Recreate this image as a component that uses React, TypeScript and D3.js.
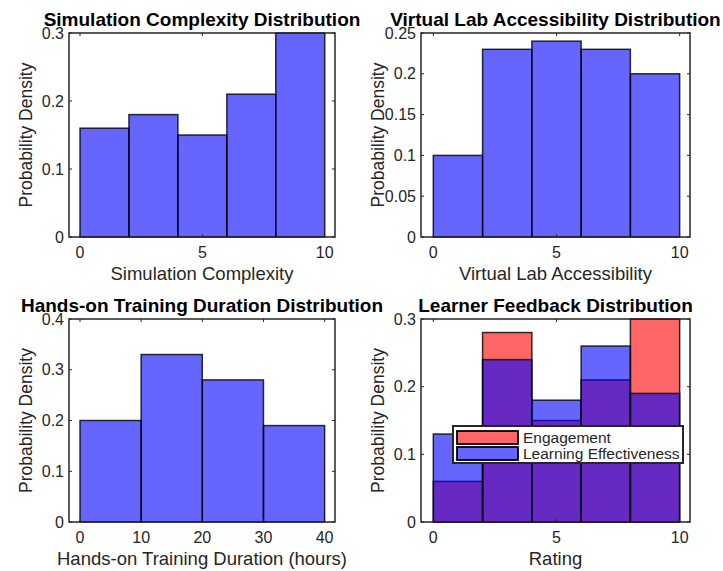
import React, { useEffect, useRef } from 'react';
import * as d3 from 'd3';

// bin edges + densities
const ratingEdges = [0, 2, 4, 6, 8, 10];
const hoursEdges = [0, 10, 20, 30, 40];

const simComplexity = [0.16, 0.18, 0.15, 0.21, 0.30];
const labAccess = [0.10, 0.23, 0.24, 0.23, 0.20];
const trainingHours = [0.20, 0.33, 0.28, 0.19];
const engagement = [0.06, 0.28, 0.15, 0.21, 0.30];
const learningEff = [0.13, 0.24, 0.18, 0.26, 0.19];

const ratingTicks = [0, 5, 10];
const hoursTicks = [0, 10, 20, 30, 40];

const FONT = '"Liberation Sans", Arial, sans-serif';
const AXIS = '#262626';

type Series = { values: number[]; color: string; opacity: number; name: string };

type Panel = {
  title: string;
  xLabel: string;
  box: { x0: number; x1: number; y0: number; y1: number };
  xDomain: [number, number];
  yMax: number;
  yTicks: number[];
  xTicks: number[];
  edges: number[];
  series: Series[];
  legend?: boolean;
};

const panels: Panel[] = [
  {
    title: 'Simulation Complexity Distribution',
    xLabel: 'Simulation Complexity',
    box: { x0: 69, x1: 335, y0: 33, y1: 237 },
    xDomain: [-0.45, 10.42],
    yMax: 0.3,
    yTicks: [0, 0.1, 0.2, 0.3],
    xTicks: ratingTicks,
    edges: ratingEdges,
    series: [{ values: simComplexity, color: 'blue', opacity: 0.6, name: 'sim' }],
  },
  {
    title: 'Virtual Lab Accessibility Distribution',
    xLabel: 'Virtual Lab Accessibility',
    box: { x0: 421, x1: 690, y0: 33, y1: 237 },
    xDomain: [-0.5, 10.42],
    yMax: 0.25,
    yTicks: [0, 0.05, 0.1, 0.15, 0.2, 0.25],
    xTicks: ratingTicks,
    edges: ratingEdges,
    series: [{ values: labAccess, color: 'blue', opacity: 0.6, name: 'lab' }],
  },
  {
    title: 'Hands-on Training Duration Distribution',
    xLabel: 'Hands-on Training Duration (hours)',
    box: { x0: 69, x1: 335, y0: 319, y1: 522 },
    xDomain: [-1.8, 41.7],
    yMax: 0.4,
    yTicks: [0, 0.1, 0.2, 0.3, 0.4],
    xTicks: hoursTicks,
    edges: hoursEdges,
    series: [{ values: trainingHours, color: 'blue', opacity: 0.6, name: 'hours' }],
  },
  {
    title: 'Learner Feedback Distribution',
    xLabel: 'Rating',
    box: { x0: 421, x1: 690, y0: 319, y1: 522 },
    xDomain: [-0.5, 10.42],
    yMax: 0.3,
    yTicks: [0, 0.1, 0.2, 0.3],
    xTicks: ratingTicks,
    edges: ratingEdges,
    series: [
      { values: engagement, color: 'red', opacity: 0.6, name: 'Engagement' },
      { values: learningEff, color: 'blue', opacity: 0.6, name: 'Learning Effectiveness' },
    ],
    legend: true,
  },
];

const App = () => {
  const svgRef = useRef<SVGSVGElement>(null);

  useEffect(() => {
    const svg = d3.select(svgRef.current);
    svg.selectAll('*').remove();
    svg.append('rect').attr('width', 723).attr('height', 571).attr('fill', 'white');

    panels.forEach(p => {
      const { x0, x1, y0, y1 } = p.box;
      const x = d3.scaleLinear().domain(p.xDomain).range([x0, x1]);
      const y = d3.scaleLinear().domain([0, p.yMax]).range([y1, y0]);
      const g = svg.append('g');

      // bars
      p.series.forEach(s => {
        g.append('g')
          .selectAll('rect')
          .data(s.values)
          .enter()
          .append('rect')
          .attr('x', (_, i) => x(p.edges[i]))
          .attr('width', (_, i) => x(p.edges[i + 1]) - x(p.edges[i]))
          .attr('y', d => y(d))
          .attr('height', d => y(0) - y(d))
          .attr('fill', s.color)
          .attr('fill-opacity', s.opacity)
          .attr('stroke', 'black')
          .attr('stroke-opacity', 0.8)
          .attr('stroke-width', 1.5);
      });

      // ticks inside, mirrored on top/right
      const tl = 3;
      p.xTicks.forEach(t => {
        g.append('line').attr('x1', x(t)).attr('x2', x(t)).attr('y1', y1).attr('y2', y1 - tl)
          .attr('stroke', AXIS);
        g.append('line').attr('x1', x(t)).attr('x2', x(t)).attr('y1', y0).attr('y2', y0 + tl)
          .attr('stroke', AXIS);
        g.append('text').attr('x', x(t)).attr('y', y1 + 21)
          .attr('text-anchor', 'middle').attr('font-size', 16).attr('font-family', FONT)
          .attr('fill', AXIS).text(String(t));
      });
      p.yTicks.forEach(t => {
        g.append('line').attr('x1', x0).attr('x2', x0 + tl).attr('y1', y(t)).attr('y2', y(t))
          .attr('stroke', AXIS);
        g.append('line').attr('x1', x1).attr('x2', x1 - tl).attr('y1', y(t)).attr('y2', y(t))
          .attr('stroke', AXIS);
        g.append('text').attr('x', x0 - 5).attr('y', y(t) + 5.5)
          .attr('text-anchor', 'end').attr('font-size', 16).attr('font-family', FONT)
          .attr('fill', AXIS).text(String(t));
      });

      g.append('rect')
        .attr('x', x0).attr('y', y0).attr('width', x1 - x0).attr('height', y1 - y0)
        .attr('fill', 'none').attr('stroke', AXIS).attr('stroke-width', 1.5);

      // labels
      g.append('text').attr('x', (x0 + x1) / 2).attr('y', y0 - 7)
        .attr('text-anchor', 'middle').attr('font-size', 19).attr('font-weight', 'bold')
        .attr('font-family', FONT).attr('fill', 'black').text(p.title);
      g.append('text').attr('x', (x0 + x1) / 2).attr('y', y1 + 43)
        .attr('text-anchor', 'middle').attr('font-size', 18.5)
        .attr('font-family', FONT).attr('fill', AXIS).text(p.xLabel);
      g.append('text')
        .attr('transform', `translate(${x0 - 37},${(y0 + y1) / 2}) rotate(-90)`)
        .attr('text-anchor', 'middle').attr('font-size', 17.5)
        .attr('font-family', FONT).attr('fill', AXIS).text('Probability Density');

      if (p.legend) {
        const lx = 453, ly = 426, lw = 230, lh = 37;
        const lg = g.append('g');
        lg.append('rect').attr('x', lx).attr('y', ly).attr('width', lw).attr('height', lh)
          .attr('fill', 'white').attr('stroke', AXIS).attr('stroke-width', 2);
        p.series.forEach((s, i) => {
          const ry = ly + 5 + i * 16;
          lg.append('rect').attr('x', lx + 4).attr('y', ry).attr('width', 61).attr('height', 13)
            .attr('fill', s.color).attr('fill-opacity', s.opacity)
            .attr('stroke', 'black').attr('stroke-width', 1.8);
          lg.append('text').attr('x', lx + 70).attr('y', ry + 12)
            .attr('font-size', 15.5).attr('font-family', FONT).attr('fill', AXIS).text(s.name);
        });
      }
    });
  }, []);

  return (
    <svg ref={svgRef} width={723} height={571}
      style={{ position: 'absolute', left: 0, top: 0 }} />
  );
};

export default App;
